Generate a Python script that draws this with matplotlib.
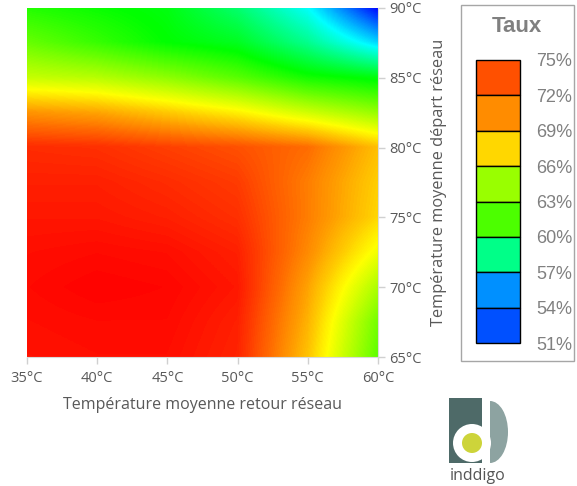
import numpy as np
import matplotlib
matplotlib.use("Agg")
import matplotlib.pyplot as plt
from matplotlib.colors import ListedColormap, hsv_to_rgb
from matplotlib.patches import Rectangle, Circle, Ellipse

# grid nodes
t_retour = [35, 40, 45, 50, 55, 60]
t_depart = [90, 87.5, 85, 82.5, 80, 77.5, 75, 72.5, 70, 67.5, 65]
# taux (%), rows = t_depart (top to bottom), cols = t_retour
taux = [
    [64.3, 63.7, 63.1, 60.8, 57.3, 51.0],
    [66.0, 64.8, 63.5, 62.7, 60.0, 56.2],
    [68.3, 67.9, 66.9, 65.6, 63.9, 63.1],
    [72.3, 71.9, 71.0, 70.0, 68.5, 67.1],
    [74.9, 74.8, 74.4, 74.0, 73.3, 71.3],
    [75.2, 75.2, 74.9, 74.5, 72.9, 70.9],
    [75.4, 75.4, 75.2, 74.8, 72.9, 70.7],
    [75.6, 75.7, 75.6, 75.2, 72.6, 69.4],
    [75.7, 75.9, 75.8, 75.4, 72.0, 67.7],
    [75.6, 75.7, 75.7, 75.2, 71.6, 66.3],
    [75.5, 75.6, 75.6, 75.1, 71.2, 65.8],
]
legend_labels = ["75%", "72%", "69%", "66%", "63%", "60%", "57%", "54%", "51%"]
legend_colors = ["#FF5000", "#FF8C00", "#FFD700", "#99FF00",
                 "#4CFF00", "#00FF88", "#0090FF", "#0050FF"]

hue = np.linspace(2 / 3, 0, 256)
cmap = ListedColormap(hsv_to_rgb(np.stack([hue, np.ones(256), np.ones(256)], axis=1)))

gray = "#595959"
plt.rcParams["font.family"] = ["Open Sans", "DejaVu Sans"]

fig = plt.figure(figsize=(5.77, 4.86), dpi=100)
W, H = 577, 486
ax = fig.add_axes([27 / W, 1 - 357 / H, 351 / W, 349 / H])

z = np.array(taux)
dx, dy = 2.5, 1.25
ax.imshow(z, cmap=cmap, vmin=51, vmax=76, aspect="auto",
          interpolation="bilinear", interpolation_stage="data",
          extent=[t_retour[0] - dx, t_retour[-1] + dx, t_depart[-1] - dy, t_depart[0] + dy])
ax.set_xlim(35, 60)
ax.set_ylim(65, 90)

ax.set_xticks(range(35, 61, 5))
ax.set_xticklabels([f"{v}°C" for v in range(35, 61, 5)])
ax.set_yticks(range(65, 91, 5))
ax.set_yticklabels([f"{v}°C" for v in range(65, 91, 5)])
ax.yaxis.tick_right()
ax.yaxis.set_label_position("right")
ax.tick_params(colors="#D0D0D0", labelcolor=gray, labelsize=10.5, length=5, width=1)
ax.tick_params(axis="x", pad=5)
ax.tick_params(axis="y", pad=3)
for s in ["top", "left"]:
    ax.spines[s].set_visible(False)
for s in ["right", "bottom"]:
    ax.spines[s].set_color("#D9D9D9")
ax.set_xlabel("Température moyenne retour réseau", color=gray, fontsize=11.5, labelpad=8)
ax.set_ylabel("Température moyenne départ réseau", color=gray, fontsize=11.8, labelpad=7)

# legend box
lg = fig.add_axes([0, 0, 1, 1])
lg.set_xlim(0, W)
lg.set_ylim(H, 0)
lg.axis("off")
lg.add_patch(Rectangle((461, 5), 113, 356, fill=False, edgecolor="#A6A6A6", lw=1))
lg.text(517, 26, "Taux", ha="center", va="center", fontsize=16, fontweight="bold",
        color="#808080", family="Liberation Sans")
y0, y1 = 60, 343
n = len(legend_colors)
h = (y1 - y0) / n
for i, c in enumerate(legend_colors):
    lg.add_patch(Rectangle((476, y0 + i * h), 44, h, facecolor=c, edgecolor="black", lw=1))
for i, lab in enumerate(legend_labels):
    lg.text(536, y0 + i * h + 2, lab, ha="left", va="center", fontsize=13,
            color="#808080", family="Liberation Sans")

# logo
lg.add_patch(Ellipse((490, 432), 36, 62, facecolor="#8DA3A1", edgecolor="none", zorder=1))
lg.add_patch(Rectangle((470, 396), 20, 70, facecolor="white", edgecolor="none", zorder=2))
lg.add_patch(Rectangle((449, 398), 33, 65, facecolor="#4E6A68", edgecolor="none", zorder=3))
lg.add_patch(Circle((472, 443), 19, facecolor="white", edgecolor="none", zorder=4))
lg.add_patch(Circle((472, 443), 10, facecolor="#CDD43A", edgecolor="none", zorder=5))
lg.text(478, 476, "inddigo", ha="center", va="center", fontsize=11.5, color="#555555")

fig.savefig("out.png", dpi=100)
